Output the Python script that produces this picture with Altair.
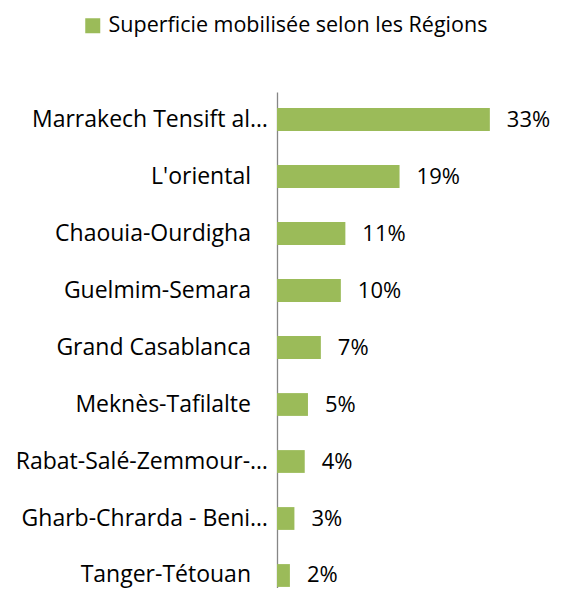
import altair as alt
import pandas as pd

regions = [
    "Marrakech Tensift al…",
    "L'oriental",
    "Chaouia-Ourdigha",
    "Guelmim-Semara",
    "Grand Casablanca",
    "Meknès-Tafilalte",
    "Rabat-Salé-Zemmour-…",
    "Gharb-Chrarda - Beni…",
    "Tanger-Tétouan",
]
shares = [33, 19, 10.6, 9.9, 6.8, 4.8, 4.3, 2.7, 2.0]
series_name = "Superficie mobilisée selon les Régions"

df = pd.DataFrame({"region": regions, "share": shares, "series": [series_name] * len(regions)})

FONT = "Open Sans"
GREEN = "#9BBB59"

y = alt.Y(
    "region:N",
    sort=regions,
    title=None,
    scale=alt.Scale(paddingInner=0.6, paddingOuter=0.151, align=0.936),
    axis=alt.Axis(labels=False, ticks=False, grid=False, domainColor="#868686", domainWidth=1.3),
)
x = alt.X("share:Q", scale=alt.Scale(domain=[0, 40]), axis=None)

base = alt.Chart(df)

bars = base.mark_bar().encode(
    x=x,
    y=y,
    color=alt.Color(
        "series:N",
        scale=alt.Scale(range=[GREEN]),
        legend=alt.Legend(
            orient="none",
            legendX=-195,
            legendY=-77,
            title=None,
            symbolType="square",
            symbolSize=225,
            symbolStrokeWidth=0,
            labelFont=FONT,
            labelFontSize=21.5,
            labelColor="black",
            labelOffset=5,
            labelLimit=0,
            padding=0,
        ),
    ),
)

values = base.transform_calculate(
    lbl="format(datum.share, '.0f') + '%'"
).mark_text(align="left", baseline="middle", dx=17, font=FONT, fontSize=22, color="black").encode(
    x=x, y=y, text="lbl:N"
)

labs_full = base.transform_filter("indexof(datum.region, '…') < 0").mark_text(
    align="right", baseline="middle", dx=-26, font=FONT, fontSize=23, color="black"
).encode(x=alt.value(0), y=y, text="region:N")

labs_trunc = base.transform_filter("indexof(datum.region, '…') >= 0").mark_text(
    align="right", baseline="middle", dx=-9, font=FONT, fontSize=23, color="black"
).encode(x=alt.value(0), y=y, text="region:N")

chart = (
    alt.layer(bars, values, labs_full, labs_trunc)
    .properties(
        width=258,
        height=496,
        padding={"left": 269, "top": 84, "right": 20, "bottom": 0},
        autosize=alt.AutoSizeParams(type="none"),
        background="white",
    )
    .configure_view(stroke=None)
)

chart.save("out.html", embed_options={"renderer": "svg", "actions": False})
